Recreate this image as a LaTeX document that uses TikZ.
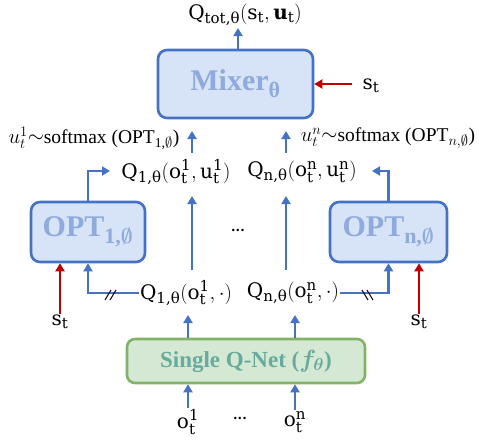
\documentclass[tikz,border=0pt]{standalone}
\usepackage{amsmath,amssymb}
\usepackage{fontspec}
\setmainfont{DejaVu Serif}
\newfontfamily\tms{Liberation Serif}
\usetikzlibrary{arrows.meta}
\DeclareMathSizes{20}{20}{15}{12}
\DeclareMathSizes{30}{30}{22}{17}
\definecolor{bblue}{HTML}{4472C4}
\definecolor{bfill}{HTML}{D7E4F7}
\definecolor{btext}{HTML}{8FAADC}
\definecolor{rred}{HTML}{C00000}
\definecolor{gborder}{HTML}{82B366}
\definecolor{gfill}{HTML}{D5E8D4}
\definecolor{gtext}{HTML}{67AB9F}
\newcommand{\tx}[1]{\text{#1}}
\tikzset{
  arr/.style={draw=bblue,line width=2.6pt,-{Triangle[width=9pt,length=8pt]}},
  rarr/.style={draw=rred,line width=2.6pt,-{Triangle[width=9pt,length=8pt]}},
  bbox/.style={draw=bblue,fill=bfill,line width=2.6pt,rounded corners=9pt,text=btext,font=\tms\fontsize{30}{33}\selectfont\bfseries},
  gbox/.style={draw=gborder,fill=gfill,line width=2.6pt,rounded corners=8pt,text=gtext,font=\tms\fontsize{23}{26}\selectfont\bfseries},
  lbl/.style={font=\fontsize{20}{24}\selectfont,inner sep=1pt},
  slbl/.style={font=\tms\fontsize{19.5}{22}\selectfont,inner sep=1pt},
}
\begin{document}
\begin{tikzpicture}[x=1pt,y=-1pt]
\useasboundingbox (0,0) rectangle (479,439);
% boxes
\node[bbox,minimum width=155pt,minimum height=68pt] (mixer) at (235.5,84) {Mixer$_{\tx{θ}}$};
\node[bbox,minimum width=114pt,minimum height=60pt] (opt1) at (88,232) {OPT$_{\tx{1,}\boldsymbol{\emptyset}}$};
\node[bbox,minimum width=117pt,minimum height=60pt] (optn) at (388.5,232) {OPT$_{\tx{n,}\boldsymbol{\emptyset}}$};
\node[gbox,minimum width=238pt,minimum height=44pt] (qnet) at (246,361) {Single Q-Net ($\boldsymbol{f_{\theta}}$)};
% labels
\node[lbl] (title) at (245,15) {$\tx{Q}_{\tx{tot,θ}}(\tx{s}_{\tx{t}},\tx{\textbf{u}}_{\tx{t}})$};
\node[lbl] (smix) at (371,86) {$\tx{s}_{\tx{t}}$};
\node[slbl] (u1) at (94,138) {$u_t^1$\raisebox{1pt}{$\sim$}softmax (OPT$_{\tx{1,}\emptyset}$)};
\node[slbl] (un) at (388,138) {$u_t^n$\raisebox{1pt}{$\sim$}softmax (OPT$_{n,\emptyset}$)};
\node[lbl] (q1u) at (176,172) {$\tx{Q}_{\tx{1,θ}}(\tx{o}_{\tx{t}}^{\tx{1}},\tx{u}_{\tx{t}}^{\tx{1}})$};
\node[lbl] (qnu) at (302,172) {$\tx{Q}_{\tx{n,θ}}(\tx{o}_{\tx{t}}^{\tx{n}},\tx{u}_{\tx{t}}^{\tx{n}})$};
\node[lbl] (dots1) at (238,230) {\textbf{\fontsize{13}{13}\selectfont ...}};
\node[lbl] (q1o) at (186,293) {$\tx{Q}_{\tx{1,θ}}(\tx{o}_{\tx{t}}^{\tx{1}},\cdot)$};
\node[lbl] (qno) at (293,293) {$\tx{Q}_{\tx{n,θ}}(\tx{o}_{\tx{t}}^{\tx{n}},\cdot)$};
\node[lbl] (st1) at (60,322) {$\tx{s}_{\tx{t}}$};
\node[lbl] (stn) at (419,322) {$\tx{s}_{\tx{t}}$};
\node[lbl] (o1) at (188,422) {$\tx{o}_{\tx{t}}^{\tx{1}}$};
\node[lbl] (dots2) at (240,418) {\textbf{\fontsize{13}{13}\selectfont ...}};
\node[lbl] (on) at (295,422) {$\tx{o}_{\tx{t}}^{\tx{n}}$};
% coordinates
\coordinate (smixs) at (352,84);
\coordinate (m1a) at (192,153); \coordinate (m1b) at (192,131);
\coordinate (mna) at (286,153); \coordinate (mnb) at (286,131);
\coordinate (v1a) at (192,270); \coordinate (v1b) at (192,196);
\coordinate (vna) at (286,270); \coordinate (vnb) at (286,196);
\coordinate (o1t) at (110,171); \coordinate (ont) at (372,171);
\coordinate (q1a) at (188,315); \coordinate (qna) at (295,315);
\coordinate (t1) at (238,28);
% connectors
\draw[arr] (mixer.north -| t1) -- (t1);
\draw[rarr] (smixs) -- (mixer.east);
\draw[arr] (m1a) -- (m1b);
\draw[arr] (mna) -- (mnb);
\draw[arr] (v1a) -- (v1b);
\draw[arr] (vna) -- (vnb);
\draw[arr] (opt1.north) |- (o1t);
\draw[arr] (optn.north) |- (ont);
\draw[arr] (q1o.west) -| (opt1.south);
\draw[arr] (qno.east) -| (optn.south);
\draw[draw=black,line width=1pt] (105,300) -- (111,290) (110,300) -- (116,290);
\draw[draw=black,line width=1pt] (362,290) -- (368,300) (367,290) -- (373,300);
\draw[rarr] (st1.north) -- (st1.north |- opt1.south);
\draw[rarr] (stn.north) -- (stn.north |- optn.south);
\draw[arr] (qnet.north -| q1a) -- (q1a);
\draw[arr] (qnet.north -| qna) -- (qna);
\draw[arr] (o1.north) -- (o1.north |- qnet.south);
\draw[arr] (on.north) -- (on.north |- qnet.south);
\end{tikzpicture}
\end{document}
